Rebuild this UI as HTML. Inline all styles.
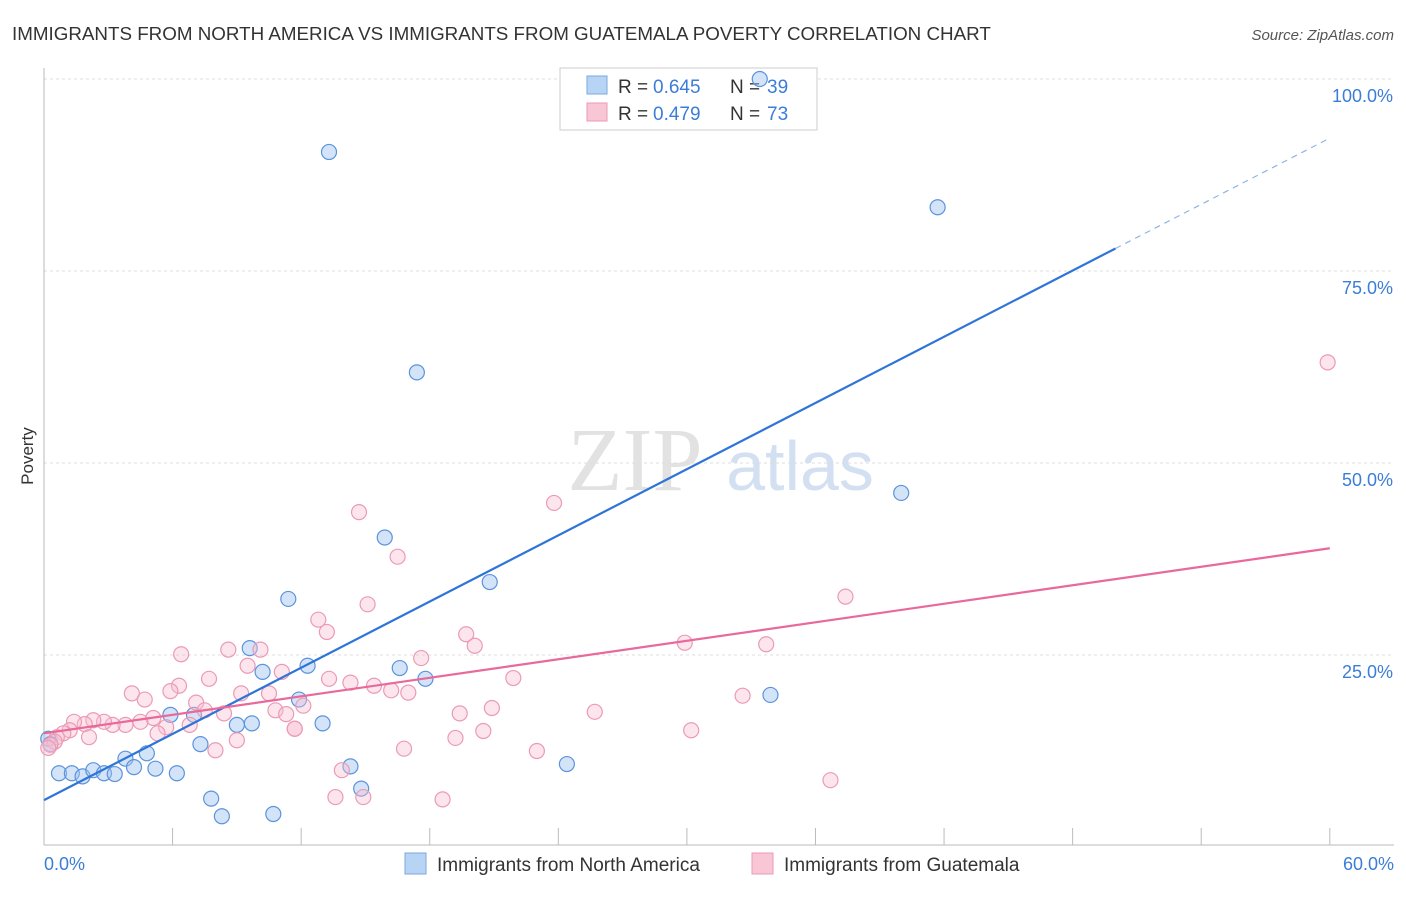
<!DOCTYPE html>
<html><head><meta charset="utf-8"><style>
body{margin:0;background:#fff;font-family:"Liberation Sans",sans-serif}
</style></head><body>
<svg id="chart" width="1406" height="892" xmlns="http://www.w3.org/2000/svg">
<text x="12" y="40" font-size="18.8" fill="#333">IMMIGRANTS FROM NORTH AMERICA VS IMMIGRANTS FROM GUATEMALA POVERTY CORRELATION CHART</text>
<text x="1394" y="40" font-size="15" fill="#555" font-style="italic" text-anchor="end">Source: ZipAtlas.com</text>
<text x="33" y="456" font-size="17" fill="#333" transform="rotate(-90 33 456)" text-anchor="middle">Poverty</text>
<text x="635" y="490" font-size="90" fill="#e2e2e2" font-family="Liberation Serif" text-anchor="middle">ZIP</text>
<text x="800" y="490" font-size="70" fill="#d3e0f2" text-anchor="middle">atlas</text>
<g id="grid"></g><g id="axes"></g>
<g>
<rect x="560" y="68" width="257" height="62" fill="#fff" stroke="#ccc"/>
<rect x="587" y="76" width="20" height="18" fill="#b8d4f4" stroke="#7aa8e0"/>
<rect x="587" y="103" width="20" height="18" fill="#f9c6d6" stroke="#ec9ab4"/>
<text x="618" y="93" font-size="19" fill="#333">R = </text><text x="653" y="93" font-size="19" fill="#3b7dd8">0.645</text>
<text x="730" y="93" font-size="19" fill="#333">N = </text><text x="767" y="93" font-size="19" fill="#3b7dd8">39</text>
<text x="618" y="120" font-size="19" fill="#333">R = </text><text x="653" y="120" font-size="19" fill="#3b7dd8">0.479</text>
<text x="730" y="120" font-size="19" fill="#333">N = </text><text x="767" y="120" font-size="19" fill="#3b7dd8">73</text>
</g>
<g id="pts"></g><g id="lines"></g>
<g>
<rect x="405" y="853" width="21" height="21" fill="#b8d4f4" stroke="#7aa8e0"/>
<text x="437" y="871" font-size="19" fill="#333">Immigrants from North America</text>
<rect x="752" y="853" width="21" height="21" fill="#f9c6d6" stroke="#ec9ab4"/>
<text x="784" y="871" font-size="19" fill="#333">Immigrants from Guatemala</text>
</g>
</svg>
<script>
const yTicks=[25,50,75,100];
const yTickLabels=["25.0%","50.0%","75.0%","100.0%"];
const xTicks=[0,6,12,18,24,30,36,42,48,54,60];
const blueX=[13.3,33.4,41.7,17.4,40.0,15.9,20.8,11.4,9.6,12.3,10.2,16.6,17.8,11.9,33.9,5.9,7.0,9.0,9.7,13.0,7.3,4.8,3.8,4.2,5.2,6.2,0.7,1.3,1.8,2.3,2.8,3.3,14.3,14.8,24.4,7.8,8.3,10.7,0.2,0.3];
const blueY=[90.5,100,83.3,61.8,46.1,40.3,34.5,32.3,25.9,23.6,22.8,23.3,21.9,19.2,19.8,17.2,17.2,15.9,16.1,16.1,13.4,12.2,11.5,10.4,10.2,9.6,9.6,9.6,9.2,10.0,9.6,9.5,10.5,7.6,10.8,6.3,4.0,4.3,14.1,13.4];
const pinkX=[59.9,23.8,14.7,16.5,15.1,37.4,12.8,13.2,19.7,20.1,29.9,33.7,8.6,10.1,6.4,9.5,17.6,7.7,11.1,13.3,21.9,14.3,15.4,16.2,17.0,6.3,5.9,4.1,4.7,9.2,10.5,7.1,12.1,20.9,32.6,25.7,19.4,10.8,11.3,8.4,7.5,5.1,5.7,6.8,4.5,3.8,3.2,2.8,2.3,1.9,1.4,1.2,2.1,0.9,0.6,0.5,9.0,5.3,8.0,11.7,20.5,19.2,16.8,23.0,30.2,36.7,13.9,13.6,14.9,18.6,0.3,0.2,11.7];
const pinkY=[63.1,44.8,43.6,37.8,31.6,32.6,29.6,28.0,27.7,26.2,26.6,26.4,25.7,25.7,25.1,23.6,24.6,21.9,22.8,21.9,22.0,21.4,21.0,20.4,20.1,21.0,20.3,20.0,19.2,20.0,20.0,18.8,18.4,18.1,19.7,17.6,17.4,17.8,17.3,17.4,17.8,16.8,15.6,15.9,16.3,15.9,15.9,16.3,16.5,16.0,16.3,15.2,14.3,14.8,14.3,13.7,13.9,14.8,12.6,15.4,15.1,14.2,12.8,12.5,15.2,8.7,10.0,6.5,6.5,6.2,13.3,12.9,15.4];
const blueLine=[6.1,92.3], pinkLine=[14.8,38.9], blueSolidEnd=50;
const X=v=>44+v*21.43, Y=v=>847-v*7.68;
const NS="http://www.w3.org/2000/svg";
function mk(t,a,p){const e=document.createElementNS(NS,t);for(const k in a)e.setAttribute(k,a[k]);document.getElementById(p).appendChild(e);return e;}
yTicks.forEach((t,i)=>{
 const l=mk('line',{x1:44,x2:1394,y1:Y(t),y2:Y(t),stroke:'#ddd','stroke-dasharray':'3,3'},'grid');
 
 
 const tx=mk('text',{x:1393,y:Y(t)+23,'font-size':18,fill:'#3b7dd8','text-anchor':'end'},'grid');tx.textContent=yTickLabels[i];
 
 
});
mk('line',{x1:44,x2:44,y1:68,y2:845,stroke:'#bbb'},'axes');
mk('line',{x1:44,x2:1394,y1:845,y2:845,stroke:'#bbb'},'axes');
xTicks.forEach(t=>{const l=mk('line',{x1:X(t),x2:X(t),y1:828,y2:845,stroke:'#bbb'},'axes');
 
 });
let a=mk('text',{x:44,y:870,'font-size':18,fill:'#3b7dd8'},'axes');a.textContent='0.0%';


a=mk('text',{x:1394,y:870,'font-size':18,fill:'#3b7dd8','text-anchor':'end'},'axes');a.textContent='60.0%';


blueX.forEach((x,i)=>{const c=mk('circle',{cx:X(x),cy:Y(blueY[i]),r:7.5,fill:'rgba(160,196,240,0.45)',stroke:'#5b93dc','stroke-width':1.2},'pts');
 
 });
pinkX.forEach((x,i)=>{const c=mk('circle',{cx:X(x),cy:Y(pinkY[i]),r:7.5,fill:'rgba(248,190,210,0.4)',stroke:'#ec9ab4','stroke-width':1.2},'pts');
 
 });
const by=x=>blueLine[0]+(blueLine[1]-blueLine[0])*x/60;
let l=mk('line',{x1:X(0),y1:Y(by(0)),x2:X(blueSolidEnd),y2:Y(by(blueSolidEnd)),stroke:'#2f74d8','stroke-width':2.2},'lines');


l=mk('line',{x1:X(blueSolidEnd),y1:Y(by(blueSolidEnd)),x2:X(60),y2:Y(by(60)),stroke:'#8fb4e6','stroke-width':1.2,'stroke-dasharray':'6,5'},'lines');


l=mk('line',{x1:X(0),y1:Y(pinkLine[0]),x2:X(60),y2:Y(pinkLine[1]),stroke:'#e8699a','stroke-width':2.2},'lines');


</script>
</body></html>
